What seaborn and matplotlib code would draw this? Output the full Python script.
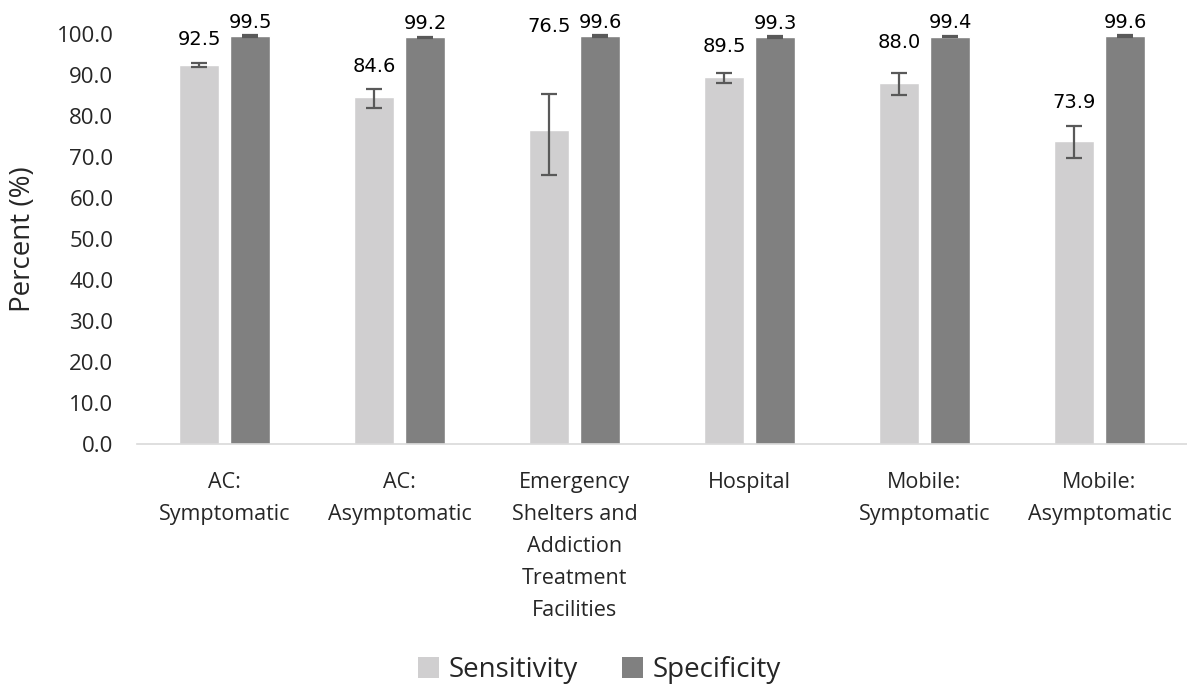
import numpy as np
import pandas as pd
import matplotlib
matplotlib.use("Agg")
import matplotlib.pyplot as plt
import seaborn as sns
from matplotlib.patches import Patch

categories = ["AC:\nSymptomatic", "AC:\nAsymptomatic",
              "Emergency\nShelters and\nAddiction\nTreatment\nFacilities",
              "Hospital", "Mobile:\nSymptomatic", "Mobile:\nAsymptomatic"]
series = ["Sensitivity", "Specificity"]
sensitivity = [92.5, 84.6, 76.5, 89.5, 88.0, 73.9]
sens_low = [92.0, 81.9, 65.6, 88.2, 85.1, 69.8]
sens_high = [93.0, 86.7, 85.3, 90.6, 90.5, 77.6]
specificity = [99.5, 99.2, 99.6, 99.3, 99.4, 99.6]
spec_low = [99.3, 99.0, 99.4, 99.1, 99.2, 99.4]
spec_high = [99.7, 99.4, 99.8, 99.5, 99.6, 99.8]
yticks = [0, 10, 20, 30, 40, 50, 60, 70, 80, 90, 100]

# label offsets above error-bar tops (pixels) - styling only
sens_label_offset_px = [23, 22, 68, 26, 31, 23]
spec_label_offset_px = 13

df = pd.DataFrame({
    "category": categories * 2,
    "series": [series[0]] * 6 + [series[1]] * 6,
    "value": sensitivity + specificity,
})

colors = {"Sensitivity": "#D0CFD0", "Specificity": "#808080"}

sns.set_theme(style="white")
plt.rcParams["font.family"] = ["Open Sans", "DejaVu Sans"]

fig = plt.figure(figsize=(11.87, 6.84), dpi=100)
ax = fig.add_axes([0.1155, 0.351, 0.8845, 0.599])

sns.barplot(data=df, x="category", y="value", hue="series", order=categories,
            hue_order=series, palette=colors, width=0.583, gap=0.23,
            errorbar=None, ax=ax, legend=False, saturation=1)

sens_rgb = matplotlib.colors.to_rgb(colors["Sensitivity"])
spec_rgb = matplotlib.colors.to_rgb(colors["Specificity"])
sens_patches = sorted([p for p in ax.patches if np.allclose(p.get_facecolor()[:3], sens_rgb)],
                      key=lambda p: p.get_x())
spec_patches = sorted([p for p in ax.patches if np.allclose(p.get_facecolor()[:3], spec_rgb)],
                      key=lambda p: p.get_x())

sens_x = [p.get_x() + p.get_width() / 2 for p in sens_patches]
spec_x = [p.get_x() + p.get_width() / 2 for p in spec_patches]

ecol = "#595959"
sv = np.array(sensitivity)
ax.errorbar(sens_x, sv, yerr=[sv - np.array(sens_low), np.array(sens_high) - sv],
            fmt="none", ecolor=ecol, elinewidth=1.6, capsize=6, capthick=1.6, zorder=5)
pv = np.array(specificity)
eb = ax.errorbar(spec_x, pv, yerr=[pv - np.array(spec_low), np.array(spec_high) - pv],
                 fmt="none", ecolor=ecol, elinewidth=1.6, capsize=6, capthick=1.6, zorder=5)
for art in eb.lines[1] + eb.lines[2]:
    art.set_clip_on(False)

px2pt = 72 / 100
for x, v, hi, off in zip(sens_x, sensitivity, sens_high, sens_label_offset_px):
    ax.annotate(f"{v:.1f}", xy=(x, hi), xytext=(0, off * px2pt), textcoords="offset points",
                ha="center", va="center", fontsize=14, color="black",
                family="DejaVu Sans", annotation_clip=False)
for x, v, hi in zip(spec_x, specificity, spec_high):
    ax.annotate(f"{v:.1f}", xy=(x, hi), xytext=(0, spec_label_offset_px * px2pt),
                textcoords="offset points", ha="center", va="center", fontsize=14,
                color="black", family="DejaVu Sans", annotation_clip=False)

ax.set_ylim(0, 100)
ax.set_xlim(-0.5, len(categories) - 0.5)
ax.set_yticks(yticks)
ax.set_yticklabels([f"{t:.1f}" for t in yticks], fontsize=16)
ax.tick_params(axis="y", length=0, pad=17)
ax.tick_params(axis="x", length=0, pad=20, labelsize=15.5)
for lbl in ax.get_xticklabels():
    lbl.set_linespacing(1.7)
ax.set_xlabel("")
ax.set_ylabel("Percent (%)", fontsize=20, labelpad=14)

for s in ["top", "right", "left"]:
    ax.spines[s].set_visible(False)
ax.spines["bottom"].set_color("#D9D9D9")
ax.spines["bottom"].set_linewidth(1.2)

handles = [Patch(facecolor=colors[s], edgecolor="none", label=s) for s in series]
fig.legend(handles=handles, loc="lower center", bbox_to_anchor=(0.505, -0.037), ncol=2,
           frameon=False, fontsize=20, handlelength=0.75, handleheight=0.75,
           handletextpad=0.35, columnspacing=1.6)

fig.savefig("out.png", dpi=100)
